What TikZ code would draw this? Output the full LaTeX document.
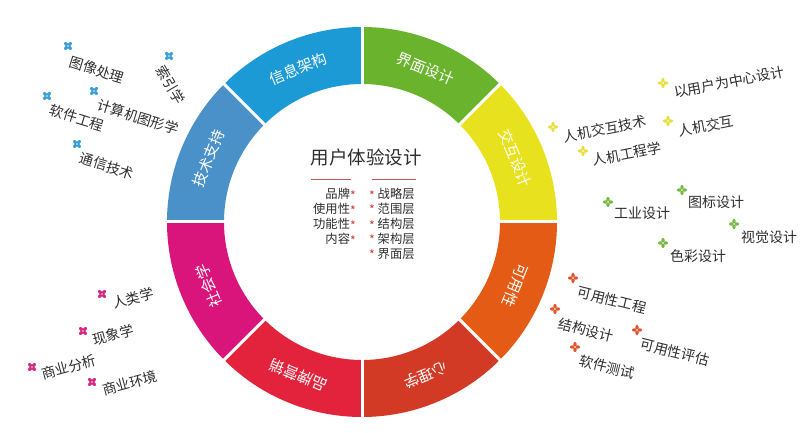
\documentclass[tikz,border=0pt]{standalone}
\usepackage{fontspec}
\setmainfont{Noto Sans CJK SC}
\usetikzlibrary{calc}
\definecolor{cyel}{HTML}{E8E21E}
\definecolor{cgrn}{HTML}{6AB42D}
\definecolor{cblu}{HTML}{1B9AD6}
\definecolor{cstl}{HTML}{4A90C9}
\definecolor{cmag}{HTML}{D9157B}
\definecolor{cred}{HTML}{E2233B}
\definecolor{cror}{HTML}{D33A26}
\definecolor{corg}{HTML}{E35B14}
\definecolor{txtgray}{HTML}{2E2E2E}
\definecolor{starred}{HTML}{D2393B}
\definecolor{linered}{HTML}{C9555A}
\definecolor{mblu}{HTML}{3A9ED8}
\definecolor{myel}{HTML}{E6DF3C}
\definecolor{mgrn}{HTML}{74B944}
\definecolor{morg}{HTML}{E0562A}
\definecolor{mpnk}{HTML}{D8257F}
\newcommand\mk[3]{\begin{scope}[shift={#1},rotate=#3]
  \foreach \q in {0,90,180,270}{\fill[#2,rotate=\q] (2.6,0) ellipse[x radius=2.5,y radius=1.7];}
  \fill[white] (0,0) circle[radius=0.8];\end{scope}}
\newcommand\rs{\textcolor{starred}{\raisebox{-0.25ex}{*}}}
\begin{document}
\begin{tikzpicture}[x=1pt,y=1pt,
  seglabel/.style={text=white,font=\fontsize{15}{15}\selectfont,inner sep=0pt},
  outer/.style={text=txtgray,font=\fontsize{14}{14}\selectfont,inner sep=0pt},
  listtxt/.style={text=txtgray,font=\fontsize{12.3}{12.3}\selectfont,inner sep=0pt},
  title/.style={text=txtgray,font=\fontsize{18.5}{18.5}\selectfont,inner sep=0pt},
  rule/.style={linered,line width=1pt}]
\fill[white] (0,0) rectangle (800,433);
\useasboundingbox (0,0) rectangle (800,433);
\coordinate (C) at (362,211);
% ring segments
\foreach \s/\c in {0/cyel,45/cgrn,90/cblu,135/cstl,180/cmag,225/cred,270/cror,315/corg}{
  \pgfmathsetmacro\e{\s+45}
  \fill[\c] ($(C)+(\s:138)$) arc[start angle=\s,end angle=\e,radius=138]
    -- ($(C)+(\e:195)$) arc[start angle=\e,end angle=\s,radius=195] -- cycle;
}
\foreach \a in {0,45,...,315}{
  \draw[white,line width=3pt] ($(C)+(\a:135)$) -- ($(C)+(\a:198)$);
}
% segment labels
\node[seglabel,rotate=-67.5] (s1) at ($(C)+(22.5:166)$) {交互设计};
\node[seglabel,rotate=-22.5] (s2) at ($(C)+(67.5:166)$) {界面设计};
\node[seglabel,rotate=22.5] (s3) at ($(C)+(112.5:166)$) {信息架构};
\node[seglabel,rotate=67.5] (s4) at ($(C)+(157.5:166)$) {技术支持};
\node[seglabel,rotate=112.5] (s5) at ($(C)+(202.5:166)$) {社会学};
\node[seglabel,rotate=157.5] (s6) at ($(C)+(247.5:166)$) {品牌营销};
\node[seglabel,rotate=202.5] (s7) at ($(C)+(292.5:166)$) {心理学};
\node[seglabel,rotate=247.5] (s8) at ($(C)+(337.5:166)$) {可用性};
% centre
\node[title] (t) at (366,276) {用户体验设计};
\draw[rule] (311,253) -- (351,253);
\draw[rule] (372,253) -- (416,253);
\node[listtxt,anchor=east] (l1) at (356,239) {品牌\rs};
\node[listtxt,anchor=east] (l2) at (356,224) {使用性\rs};
\node[listtxt,anchor=east] (l3) at (356,209) {功能性\rs};
\node[listtxt,anchor=east] (l4) at (356,194) {内容\rs};
\node[listtxt,anchor=west] (r1) at (369,239) {\rs\ 战略层};
\node[listtxt,anchor=west] (r2) at (369,224) {\rs\ 范围层};
\node[listtxt,anchor=west] (r3) at (369,209) {\rs\ 结构层};
\node[listtxt,anchor=west] (r4) at (369,194) {\rs\ 架构层};
\node[listtxt,anchor=west] (r5) at (369,179) {\rs\ 界面层};
% technology
\mk{(68,387)}{mblu}{45}\node[outer,rotate=-17] (a1) at (97,363) {图像处理};
\mk{(169,377)}{mblu}{45}\node[outer,rotate=-60] (a2) at (171,348) {索引学};
\mk{(94,342)}{mblu}{45}\node[outer,rotate=-17] (a3) at (138,316) {计算机图形学};
\mk{(47,337)}{mblu}{45}\node[outer,rotate=-17] (a4) at (77,315) {软件工程};
\mk{(77,289)}{mblu}{45}\node[outer,rotate=-17] (a5) at (107,267) {通信技术};
% interaction
\mk{(663,350)}{myel}{0}\node[outer,rotate=11] (b1) at (729,351) {以用户为中心设计};
\mk{(553,306)}{myel}{0}\node[outer,rotate=11] (b2) at (605,304) {人机交互技术};
\mk{(668,312)}{myel}{0}\node[outer,rotate=11] (b3) at (706,307) {人机交互};
\mk{(583,282)}{myel}{0}\node[outer,rotate=11] (b4) at (627,279) {人机工程学};
% interface
\mk{(682,243)}{mgrn}{0}\node[outer] (c1) at (716,231) {图标设计};
\mk{(608,231)}{mgrn}{0}\node[outer] (c2) at (642,220) {工业设计};
\mk{(734,209)}{mgrn}{0}\node[outer] (c3) at (769,196) {视觉设计};
\mk{(663,190)}{mgrn}{0}\node[outer] (c4) at (698,177) {色彩设计};
% usability
\mk{(573,155)}{morg}{0}\node[outer,rotate=-14] (d1) at (612,133) {可用性工程};
\mk{(555,124)}{morg}{0}\node[outer,rotate=-14] (d2) at (586,103) {结构设计};
\mk{(637,103)}{morg}{0}\node[outer,rotate=-14] (d3) at (675,81) {可用性评估};
\mk{(575,86)}{morg}{0}\node[outer,rotate=-14] (d4) at (607,66) {软件测试};
% sociology
\mk{(102,139)}{mpnk}{45}\node[outer,rotate=15] (e1) at (133,135) {人类学};
\mk{(83,102)}{mpnk}{45}\node[outer,rotate=15] (e2) at (113,98) {现象学};
\mk{(32,66)}{mpnk}{45}\node[outer,rotate=15] (e3) at (69,66) {商业分析};
\mk{(92,51)}{mpnk}{45}\node[outer,rotate=15] (e4) at (130,50) {商业环境};
\end{tikzpicture}
\end{document}
